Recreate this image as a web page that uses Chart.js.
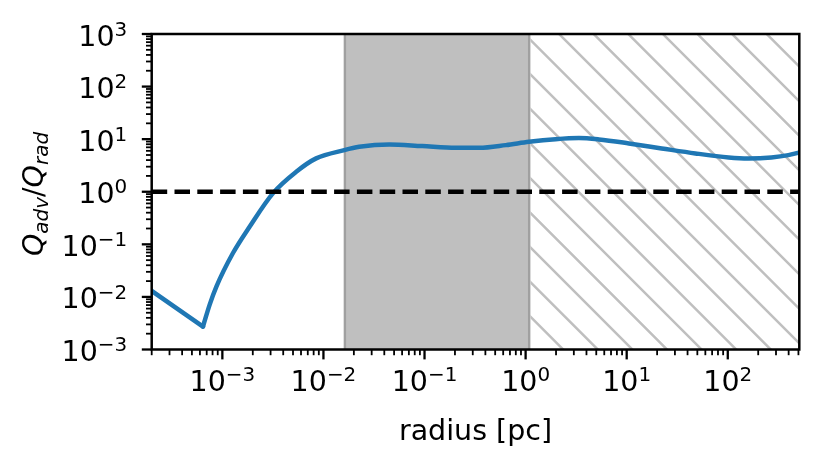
<!DOCTYPE html>
<html>
<head>
<meta charset="utf-8">
<script src="https://cdn.jsdelivr.net/npm/chart.js@4.4.1/dist/chart.umd.min.js"></script>
<style>
html,body{margin:0;padding:0;background:#fff;overflow:hidden;}
#marco{width:831px;height:463px;}
</style>
</head>
<body>
<div id="marco"><canvas id="grafico"></canvas></div>
<script>
// datos
const radioBajada=[2.0e-4,6.43e-4];
const qBajada=[0.0130,0.00273];

const radioCurva=[6.43e-4,7.48e-4,8.73e-4,1.27e-3,1.86e-3,3.16e-3,5.38e-3,8.47e-3,1.61e-2,2.26e-2,4.48e-2,9.49e-2,0.204,0.347,0.637,1.08,1.98,3.37,5.31,10.5,22.2,47.8,102,160,270,398,510];
const qCurva=[0.00273,0.00706,0.0157,0.0676,0.216,0.933,2.40,4.31,6.19,7.15,7.94,7.38,6.85,6.85,7.70,8.90,10.0,10.5,9.88,8.30,6.67,5.36,4.50,4.31,4.50,4.98,5.6];

const nivelReferencia=1;
const zonaGris=[0.0163,1.085];
const zonaRayada=[1.085,510];
const rangoX=[2e-4,510];
const rangoY=[1e-3,1e3];
const decadasX=[-3,-2,-1,0,1,2];
const decadasY=[-3,-2,-1,0,1,2,3];

const tituloX="radius [pc]";
const FUENTE="'DejaVu Sans'";
const TAM=28.5;

function puntos(xs,ys){
    return xs.map((v,i)=>({x:v,y:ys[i]}));
}

function menores(rango){
    const lista=[];
    const d0=Math.floor(Math.log10(rango[0]));
    const d1=Math.ceil(Math.log10(rango[1]));
    for(let d=d0;d<=d1;d++){
        for(let k=1;k<10;k++){
            const v=k*Math.pow(10,d);
            if(v>=rango[0]*0.9999&&v<=rango[1]*1.0001) lista.push({v:v,mayor:k===1});
        }
    }
    return lista;
}

function anchoPotencia(ctx,exp){
    ctx.font=TAM+"px "+FUENTE;
    const a=ctx.measureText("10").width;
    ctx.font=(TAM*0.7)+"px "+FUENTE;
    const b=ctx.measureText(String(exp).replace("-","\u2212")).width;
    return a+b;
}

function potencia(ctx,exp,x,base){
    ctx.font=TAM+"px "+FUENTE;
    ctx.fillText("10",x,base);
    const a=ctx.measureText("10").width;
    ctx.font=(TAM*0.7)+"px "+FUENTE;
    ctx.fillText(String(exp).replace("-","\u2212"),x+a,base-9.8);
}

const dibujo={
    id:"dibujo",
    beforeDatasetsDraw(chart){
        const {ctx,chartArea:a,scales:{x}}=chart;
        ctx.save();
        const g0=x.getPixelForValue(zonaGris[0]);
        const g1=x.getPixelForValue(zonaGris[1]);
        ctx.fillStyle="#bfbfbf";
        ctx.fillRect(g0,a.top,g1-g0,a.bottom-a.top);
        ctx.strokeStyle="#a0a0a0";
        ctx.lineWidth=2.4;
        ctx.beginPath();
        ctx.moveTo(g0,a.top);ctx.lineTo(g0,a.bottom);
        ctx.moveTo(g1,a.top);ctx.lineTo(g1,a.bottom);
        ctx.stroke();

        // rayado
        const r0=x.getPixelForValue(zonaRayada[0]);
        const r1=x.getPixelForValue(zonaRayada[1]);
        ctx.beginPath();
        ctx.rect(r0+1.2,a.top,r1-r0-1.2,a.bottom-a.top);
        ctx.clip();
        ctx.strokeStyle="#bfbfbf";
        ctx.lineWidth=2.5;
        const paso=34.6;
        const fase=628.3-34;
        ctx.beginPath();
        for(let c=fase-paso*40;c<a.right+paso;c+=paso){
            ctx.moveTo(c+a.top-5,a.top-5);
            ctx.lineTo(c+a.bottom+5,a.bottom+5);
        }
        ctx.stroke();
        ctx.restore();
    },
    afterDraw(chart){
        const {ctx,chartArea:a,scales:{x,y}}=chart;
        ctx.save();
        ctx.fillStyle="#000";
        ctx.strokeStyle="#000";

        // marco
        ctx.lineWidth=2.5;
        ctx.strokeRect(a.left,a.top,a.right-a.left,a.bottom-a.top);

        // marcas eje x
        menores(rangoX).forEach(t=>{
            const px=x.getPixelForValue(t.v);
            ctx.lineWidth=t.mayor?2.3:1.8;
            ctx.beginPath();
            ctx.moveTo(px,a.bottom);
            ctx.lineTo(px,a.bottom+(t.mayor?9.9:5.7));
            ctx.stroke();
        });
        // marcas eje y
        menores(rangoY).forEach(t=>{
            const py=y.getPixelForValue(t.v);
            ctx.lineWidth=t.mayor?2.3:1.8;
            ctx.beginPath();
            ctx.moveTo(a.left,py);
            ctx.lineTo(a.left-(t.mayor?9.9:5.7),py);
            ctx.stroke();
        });

        ctx.textBaseline="alphabetic";
        ctx.textAlign="left";
        decadasX.forEach(d=>{
            const px=x.getPixelForValue(Math.pow(10,d));
            const w=anchoPotencia(ctx,d);
            potencia(ctx,d,px-w/2,a.bottom+41.7);
        });
        decadasY.forEach(d=>{
            const py=y.getPixelForValue(Math.pow(10,d));
            const w=anchoPotencia(ctx,d);
            potencia(ctx,d,a.left-24.5-w,py+11.5);
        });

        // titulo eje x
        ctx.font=TAM+"px "+FUENTE;
        ctx.textAlign="center";
        ctx.fillText(tituloX,(a.left+a.right)/2,440);

        // titulo eje y: Q_adv/Q_rad
        const trozos=[
            {t:"Q",f:"italic "+TAM+"px "+FUENTE,d:0},
            {t:"adv",f:"italic "+(TAM*0.7)+"px "+FUENTE,d:5},
            {t:"/",f:TAM+"px "+FUENTE,d:0},
            {t:"Q",f:"italic "+TAM+"px "+FUENTE,d:0},
            {t:"rad",f:"italic "+(TAM*0.7)+"px "+FUENTE,d:5}
        ];
        ctx.textAlign="left";
        let total=0;
        trozos.forEach(p=>{ctx.font=p.f;p.w=ctx.measureText(p.t).width;total+=p.w;});
        ctx.translate(43,194);
        ctx.rotate(-Math.PI/2);
        let cx=-total/2;
        trozos.forEach(p=>{
            ctx.font=p.f;
            ctx.fillText(p.t,cx,p.d);
            cx+=p.w;
        });
        ctx.restore();
    }
};

new Chart(document.getElementById("grafico"),{
    type:"line",
    data:{
        datasets:[
            {
                data:puntos(rangoX,[nivelReferencia,nivelReferencia]),
                borderColor:"#000000",
                borderWidth:4.5,
                borderDash:[15.5,7.3],
                pointRadius:0
            },
            {
                data:puntos(radioCurva,qCurva),
                borderColor:"#1f77b4",
                borderWidth:4.5,
                borderCapStyle:"round",
                cubicInterpolationMode:"monotone",
                pointRadius:0
            },
            {
                data:puntos(radioBajada,qBajada),
                borderColor:"#1f77b4",
                borderWidth:4.5,
                borderCapStyle:"round",
                tension:0,
                pointRadius:0
            }
        ]
    },
    options:{
        responsive:true,
        maintainAspectRatio:false,
        animation:false,
        layout:{padding:{left:0,top:34,right:831-799.3,bottom:0}},
        plugins:{legend:{display:false},tooltip:{enabled:false}},
        scales:{
            x:{
                type:"logarithmic",
                min:rangoX[0],
                max:rangoX[1],
                grid:{display:false},
                border:{display:false},
                ticks:{display:false},
                afterFit(s){s.height=463-349.5;}
            },
            y:{
                type:"logarithmic",
                min:rangoY[0],
                max:rangoY[1],
                grid:{display:false},
                border:{display:false},
                ticks:{display:false},
                afterFit(s){s.width=151.7;}
            }
        }
    },
    plugins:[dibujo]
});
</script>
</body>
</html>
